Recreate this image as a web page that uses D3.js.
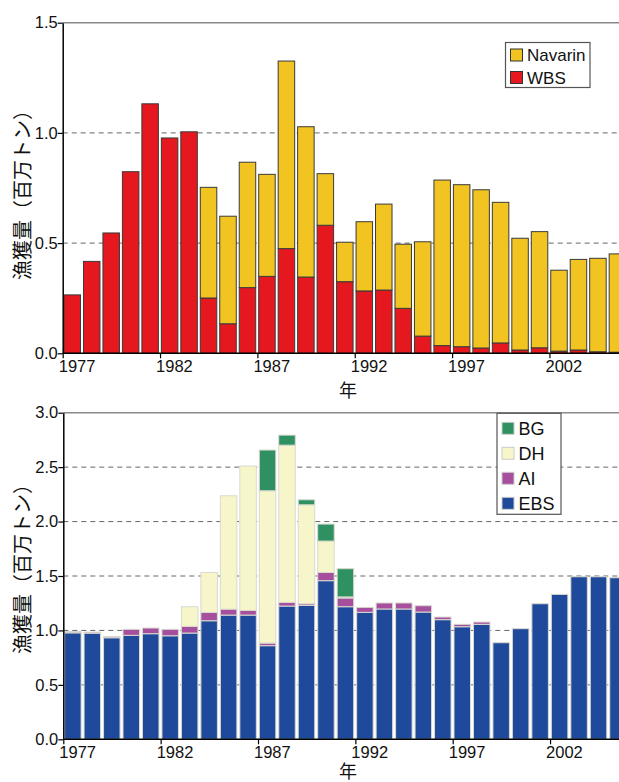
<!DOCTYPE html>
<html>
<head>
<meta charset="utf-8">
<script src="https://cdn.jsdelivr.net/npm/d3@7"></script>
<style>
  body { margin: 0; background: #fff; }
  text { font-family: "Liberation Sans", Arial, sans-serif; fill: #111; }
  .ylab { font-family: "Noto Sans CJK JP", sans-serif; }
</style>
</head>
<body>
<svg width="619" height="782"></svg>
<script>
const years = [1977,1978,1979,1980,1981,1982,1983,1984,1985,1986,1987,1988,1989,1990,
  1991,1992,1993,1994,1995,1996,1997,1998,1999,2000,2001,2002,2003,2004,2005]
const tickYears = [1977, 1982, 1987, 1992, 1997, 2002]

// top panel (million t)
const wbs = [0.265,0.417,0.546,0.824,1.132,0.977,1.005,0.251,0.134,0.298,0.349,0.475,0.346,0.581,
  0.325,0.283,0.287,0.204,0.078,0.035,0.030,0.024,0.047,0.015,0.025,0.010,0.015,0.007,0.005]
const navarin = [0,0,0,0,0,0,0,0.502,0.488,0.569,0.463,0.851,0.682,0.234,
  0.179,0.314,0.390,0.291,0.428,0.751,0.735,0.718,0.638,0.507,0.527,0.367,0.411,0.424,0.446]

// bottom panel (million t)
const ebs = [0.978,0.975,0.933,0.955,0.970,0.951,0.976,1.089,1.141,1.141,0.860,1.224,1.230,1.457,
  1.218,1.166,1.197,1.197,1.169,1.099,1.034,1.056,0.887,1.016,1.245,1.331,1.493,1.493,1.484]
const ai = [0.010,0.010,0.010,0.055,0.052,0.059,0.061,0.077,0.055,0.043,0.024,0.034,0.015,0.076,
  0.080,0.046,0.055,0.055,0.058,0.024,0.022,0.021,0,0,0,0,0,0,0]
const dh = [0,0,0,0,0,0,0.181,0.367,1.041,1.326,1.399,1.444,0.909,0.288,
  0.010,0,0,0,0,0,0,0,0,0,0,0,0,0,0]
const bg = [0,0,0,0,0,0,0,0,0,0,0.374,0.092,0.046,0.156,
  0.259,0,0,0,0,0,0,0,0,0,0,0,0,0,0]

const svg = d3.select("svg")

function panel(opts) {
  const g = svg.append("g")
  const x = d3.scaleLinear().domain([1977, 2006]).range([opts.left, opts.left + 29 * 19.47])
  const y = d3.scaleLinear().domain([0, opts.max]).range([opts.bottom, opts.top])

  // grid
  g.append("g").selectAll("line")
    .data(opts.grid)
    .enter().append("line")
      .attr("x1", opts.left).attr("x2", 619)
      .attr("y1", d => y(d)).attr("y2", d => y(d))
      .attr("stroke", "#666").attr("stroke-width", 1)
      .attr("stroke-dasharray", "5,4")
  g.append("line")
      .attr("x1", opts.left).attr("x2", 619)
      .attr("y1", y(opts.max)).attr("y2", y(opts.max))
      .attr("stroke", "#8a8a8a").attr("stroke-width", 1.5)

  // stacked bars
  const rows = years.map((yr, i) => {
    const r = {year: yr}
    opts.series.forEach(s => r[s.key] = s.values[i])
    return r
  })
  const stack = d3.stack().keys(opts.series.map(s => s.key))(rows)
  const color = d3.scaleOrdinal().domain(opts.series.map(s => s.key)).range(opts.series.map(s => s.color))

  g.append("g").selectAll("g")
    .data(stack)
    .enter().append("g")
      .attr("fill", d => color(d.key))
    .selectAll("rect")
    .data(d => d.filter(p => p[1] - p[0] > 0))
    .enter().append("rect")
      .attr("x", d => x(d.data.year) + 1.3)
      .attr("width", 16.5)
      .attr("y", d => y(d[1]))
      .attr("height", d => y(d[0]) - y(d[1]))
      .attr("stroke", opts.barStroke)
      .attr("stroke-width", 1)

  // axes
  const xAxis = g.append("g")
      .attr("transform", `translate(0,${opts.bottom})`)
      .call(d3.axisBottom(x).tickValues(tickYears).tickFormat(d3.format("d")).tickSize(5).tickSizeOuter(0))
  xAxis.select(".domain").attr("stroke", "#000").attr("stroke-width", 1.5)
  xAxis.selectAll(".tick line").attr("stroke", "#000").attr("stroke-width", 1.2)
  xAxis.selectAll(".tick text")
      .attr("font-size", 16.5).attr("text-anchor", "start")
      .attr("x", -4.5).attr("y", 7).attr("dy", "0.71em")
      .attr("font-family", "Liberation Sans, Arial, sans-serif").attr("fill", "#111")
  xAxis.select(".domain").attr("d", `M${opts.left},0H619`)

  const yAxis = g.append("g")
      .attr("transform", `translate(${opts.left},0)`)
      .call(d3.axisLeft(y).tickValues(opts.ticks).tickFormat(d3.format(".1f")).tickSize(5).tickSizeOuter(0))
  yAxis.select(".domain").attr("stroke", "#000").attr("stroke-width", 1.5)
  yAxis.selectAll(".tick line").attr("stroke", "#000").attr("stroke-width", 1.2)
  yAxis.selectAll(".tick text")
      .attr("font-size", 16.5).attr("x", -5)
      .attr("font-family", "Liberation Sans, Arial, sans-serif").attr("fill", "#111")

  // labels
  g.append("text")
      .attr("class", "ylab")
      .attr("transform", `translate(${opts.ylabX},${opts.ylabY}) rotate(-90)`)
      .attr("text-anchor", "middle")
      .attr("font-size", 20)
      .text("漁獲量（百万トン）")
  g.append("text")
      .attr("class", "ylab")
      .attr("x", 348).attr("y", opts.xlabY)
      .attr("text-anchor", "middle")
      .attr("font-size", 18)
      .text("年")

  // legend
  const L = opts.legend
  g.append("rect")
      .attr("x", L.x).attr("y", L.y).attr("width", L.w).attr("height", L.h)
      .attr("fill", "#fff").attr("stroke", "#555").attr("stroke-width", 1.2)
  const items = g.append("g").selectAll("g")
    .data(L.items)
    .enter().append("g")
      .attr("transform", (d, i) => `translate(${L.x + 5},${L.y + L.first + i * L.step})`)
  items.append("rect")
      .attr("x", 0).attr("y", -6).attr("width", 12).attr("height", 12)
      .attr("fill", d => color(d))
      .attr("stroke", opts.legendStroke).attr("stroke-width", 1)
  items.append("text")
      .attr("x", 16.5).attr("dy", "0.36em")
      .attr("font-size", L.font)
      .text(d => d)
}

panel({
  left: 62.7, top: 22.7, bottom: 353.3, max: 1.5,
  ticks: [0, 0.5, 1.0, 1.5], grid: [0.5, 1.0],
  series: [
    {key: "WBS", values: wbs, color: "#e4181e"},
    {key: "Navarin", values: navarin, color: "#f1c422"}
  ],
  barStroke: "#3a3a3a", legendStroke: "#333",
  ylabX: 30, ylabY: 190, xlabY: 397,
  legend: {x: 505.5, y: 42.5, w: 84.5, h: 45, first: 12.5, step: 22.5, font: 17,
    items: ["Navarin", "WBS"]}
})

panel({
  left: 63.3, top: 412.7, bottom: 739.3, max: 3.0,
  ticks: [0, 0.5, 1.0, 1.5, 2.0, 2.5, 3.0], grid: [0.5, 1.0, 1.5, 2.0, 2.5],
  series: [
    {key: "EBS", values: ebs, color: "#1f4a9c"},
    {key: "AI", values: ai, color: "#a64f9e"},
    {key: "DH", values: dh, color: "#f7f6cb"},
    {key: "BG", values: bg, color: "#2f9161"}
  ],
  barStroke: "#d9d9cf", legendStroke: "#ccc",
  ylabX: 30, ylabY: 564, xlabY: 778,
  legend: {x: 497, y: 413.3, w: 64, h: 101, first: 15, step: 25, font: 18,
    items: ["BG", "DH", "AI", "EBS"]}
})
</script>
</body>
</html>
